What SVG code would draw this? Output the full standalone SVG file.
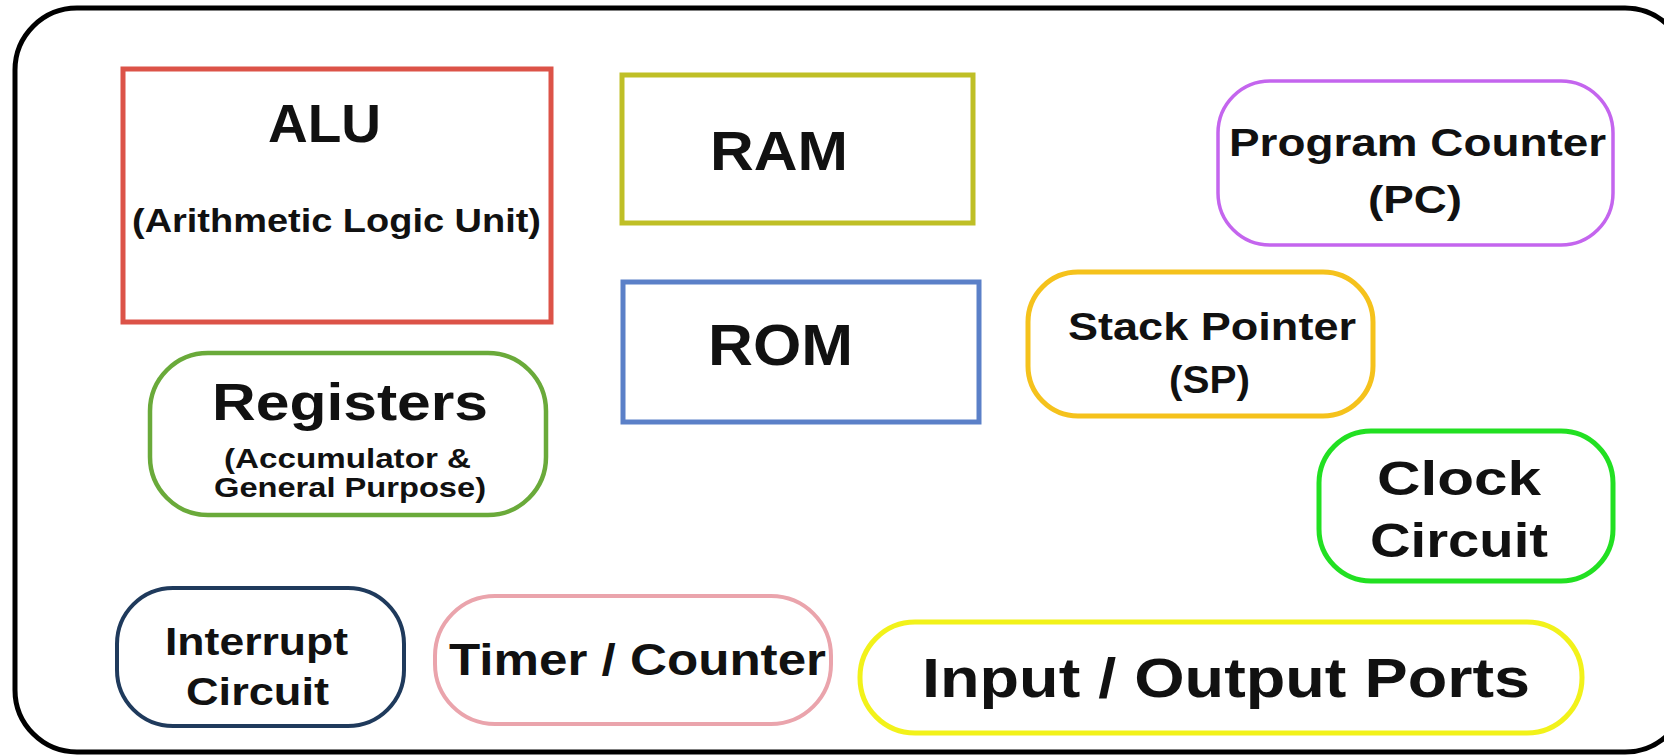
<svg xmlns="http://www.w3.org/2000/svg" width="1664" height="755" viewBox="0 0 1664 755">
<style>
  text { font-family: "Liberation Sans", Arial, sans-serif; font-weight: bold; fill: #111; }
  .box { fill: none; }
</style>
<rect width="1664" height="755" fill="#ffffff"/>
<g id="frame">
  <rect x="15" y="8" width="1672" height="744" rx="62" ry="62" fill="none" stroke="#000" stroke-width="5"/>
</g>
<g id="alu">
  <rect class="box" x="123" y="69" width="428" height="253" stroke="#dc5348" stroke-width="5"/>
  <text x="268" y="142" font-size="54" textLength="113" lengthAdjust="spacingAndGlyphs">ALU</text>
  <text x="132" y="232" font-size="34" textLength="409" lengthAdjust="spacingAndGlyphs">(Arithmetic Logic Unit)</text>
</g>
<g id="ram">
  <rect class="box" x="622" y="75" width="351" height="148" stroke="#bfbf26" stroke-width="5"/>
  <text x="710" y="170" font-size="56" textLength="138" lengthAdjust="spacingAndGlyphs">RAM</text>
</g>
<g id="rom">
  <rect class="box" x="623" y="282" width="356" height="140" stroke="#5b80c8" stroke-width="5"/>
  <text x="708" y="365" font-size="57" textLength="145" lengthAdjust="spacingAndGlyphs">ROM</text>
</g>
<g id="pc">
  <rect class="box" x="1218" y="81" width="395" height="164" rx="52" ry="52" stroke="#c465ee" stroke-width="3.5"/>
  <text x="1229" y="156" font-size="39" textLength="377" lengthAdjust="spacingAndGlyphs">Program Counter</text>
  <text x="1368" y="213" font-size="39" textLength="94" lengthAdjust="spacingAndGlyphs">(PC)</text>
</g>
<g id="sp">
  <rect class="box" x="1028" y="272" width="345" height="144" rx="50" ry="50" stroke="#f5c21c" stroke-width="5"/>
  <text x="1068" y="340" font-size="38" textLength="288" lengthAdjust="spacingAndGlyphs">Stack Pointer</text>
  <text x="1169" y="393" font-size="38" textLength="81" lengthAdjust="spacingAndGlyphs">(SP)</text>
</g>
<g id="registers">
  <rect class="box" x="150" y="353" width="396" height="162" rx="58" ry="58" stroke="#6aaa3a" stroke-width="4.5"/>
  <text x="212" y="420" font-size="52" textLength="276" lengthAdjust="spacingAndGlyphs">Registers</text>
  <text x="224" y="468" font-size="28" textLength="247" lengthAdjust="spacingAndGlyphs">(Accumulator &amp;</text>
  <text x="214" y="497" font-size="28" textLength="272" lengthAdjust="spacingAndGlyphs">General Purpose)</text>
</g>
<g id="clock">
  <rect class="box" x="1319" y="431" width="294" height="150" rx="52" ry="52" stroke="#22e022" stroke-width="5"/>
  <text x="1377" y="495" font-size="48" textLength="164" lengthAdjust="spacingAndGlyphs">Clock</text>
  <text x="1370" y="557" font-size="48" textLength="178" lengthAdjust="spacingAndGlyphs">Circuit</text>
</g>
<g id="interrupt">
  <rect class="box" x="117" y="588" width="287" height="138" rx="56" ry="56" stroke="#1f3a5c" stroke-width="4"/>
  <text x="165" y="655" font-size="38" textLength="183" lengthAdjust="spacingAndGlyphs">Interrupt</text>
  <text x="186" y="705" font-size="38" textLength="143" lengthAdjust="spacingAndGlyphs">Circuit</text>
</g>
<g id="timer">
  <rect class="box" x="435" y="596" width="396" height="128" rx="60" ry="60" stroke="#eaa4ac" stroke-width="4"/>
  <text x="449" y="675" font-size="44" textLength="377" lengthAdjust="spacingAndGlyphs">Timer / Counter</text>
</g>
<g id="io">
  <rect class="box" x="860" y="622" width="722" height="111" rx="55" ry="55" stroke="#f2f21a" stroke-width="5"/>
  <text x="922" y="697" font-size="56" textLength="608" lengthAdjust="spacingAndGlyphs">Input / Output Ports</text>
</g>
<g id="connectors"></g>
</svg>
